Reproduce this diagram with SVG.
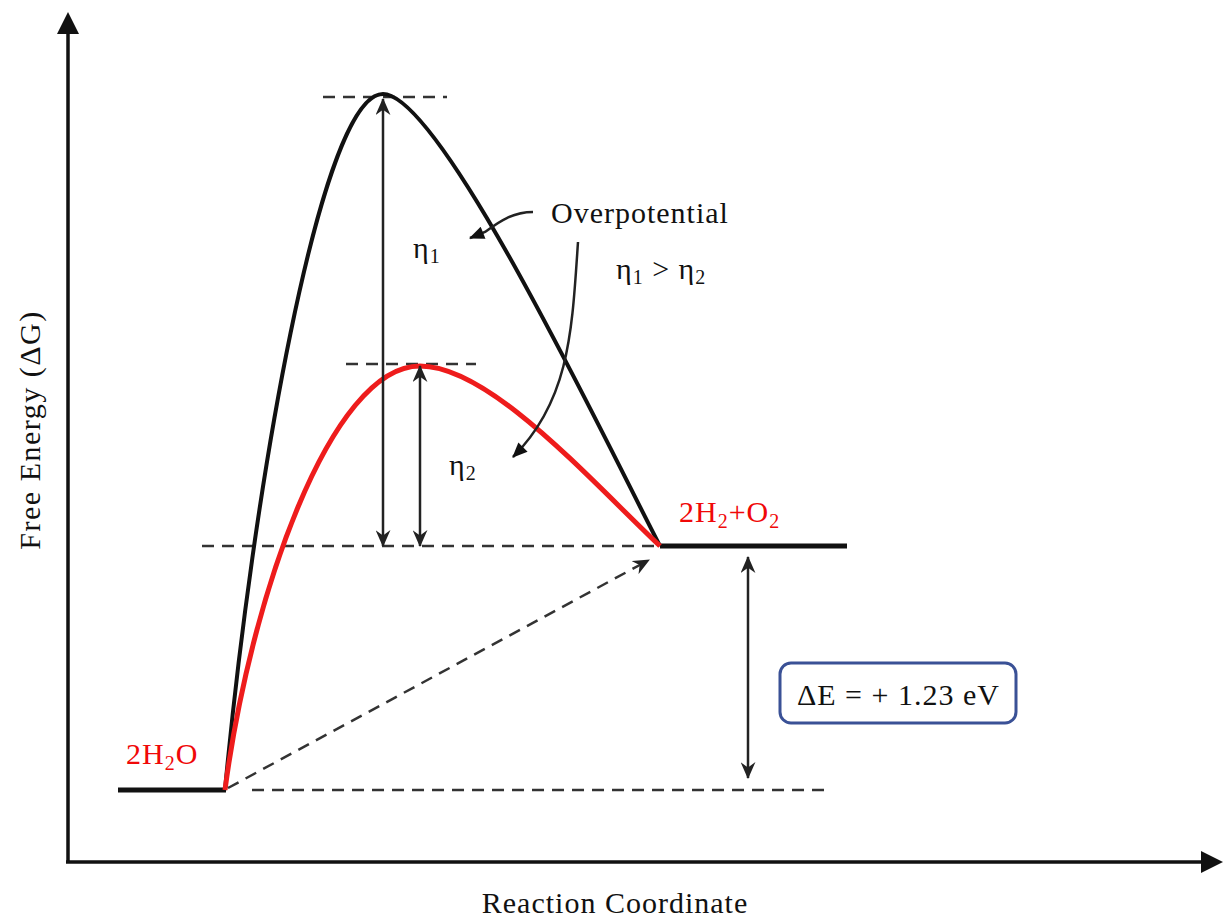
<svg xmlns="http://www.w3.org/2000/svg" width="1225" height="920" viewBox="0 0 1225 920">
<style>
.t{font-family:"Liberation Serif","Times New Roman",serif;font-size:30px;letter-spacing:1px;fill:#111}
.r{fill:#f00808}
.dash{stroke:#333;stroke-width:2.5;stroke-dasharray:12 8;fill:none}
.arr{stroke:#222;stroke-width:2.5;fill:none}
</style>
<defs>
<marker id="ah" viewBox="0 0 16 14" refX="15" refY="7" markerWidth="17" markerHeight="15" markerUnits="userSpaceOnUse" orient="auto-start-reverse">
<path d="M0,0 L16,7 L0,14 L5,7 z" fill="#222"/>
</marker>
<marker id="ahf" viewBox="0 0 14 12" refX="13" refY="6" markerWidth="16" markerHeight="13" markerUnits="userSpaceOnUse" orient="auto">
<path d="M0,0 L14,6 L0,12 z" fill="#111"/>
</marker>
</defs>
<rect width="1225" height="920" fill="#fff"/>
<g id="axes">
<line x1="68" y1="862" x2="68" y2="30" stroke="#111" stroke-width="3.5"/>
<path d="M68,12 L79,34 L57,34 z" fill="#111"/>
<line x1="66" y1="862" x2="1203" y2="862" stroke="#111" stroke-width="3.5"/>
<path d="M1223,862 L1201,851 L1201,873 z" fill="#111"/>
<text class="t" x="615" y="913" text-anchor="middle">Reaction Coordinate</text>
<text class="t" transform="translate(40,430) rotate(-90)" text-anchor="middle" style="letter-spacing:1.5px">Free Energy (ΔG)</text>
</g>
<g id="dashes">
<line class="dash" x1="323" y1="97" x2="447" y2="97"/>
<line class="dash" x1="346" y1="364" x2="476" y2="364"/>
<line class="dash" x1="202" y1="546" x2="662" y2="546"/>
<line class="dash" x1="252" y1="790" x2="824" y2="790"/>
</g>
<g id="levels">
<line x1="118" y1="790" x2="226" y2="790" stroke="#111" stroke-width="5"/>
<line x1="660" y1="546" x2="847" y2="546" stroke="#111" stroke-width="5"/>
</g>
<g id="curves">
<path d="M225,790 C252,500 320,94 383,94 C440,94 600,430 660,546" fill="none" stroke="#111" stroke-width="4"/>
<path d="M225,790 C250,600 330,366 420,366 C490,366 590,480 660,546" fill="none" stroke="#ee1c1c" stroke-width="5"/>
</g>
<g id="connectors">
<line class="arr" x1="383" y1="99" x2="383" y2="546" marker-start="url(#ah)" marker-end="url(#ah)"/>
<line class="arr" x1="420" y1="366" x2="420" y2="546" marker-start="url(#ah)" marker-end="url(#ah)"/>
<line class="arr" x1="748" y1="557" x2="748" y2="778" marker-start="url(#ah)" marker-end="url(#ah)"/>
<line class="dash" x1="228" y1="788" x2="649" y2="560" marker-end="url(#ah)"/>
<path class="arr" d="M533,212 C510,212 495,225 485,232 L470,238" stroke-width="2" marker-end="url(#ahf)"/>
<path class="arr" d="M578,242 C572,330 570,400 513,457" stroke-width="2" marker-end="url(#ahf)"/>
</g>
<g id="labels">
<text class="t" x="551" y="223">Overpotential</text>
<text class="t" x="616" y="279">η<tspan font-size="20" dy="5">1</tspan><tspan dy="-5"> &gt; η</tspan><tspan font-size="20" dy="5">2</tspan></text>
<text class="t" x="413" y="258">η<tspan font-size="20" dy="5">1</tspan></text>
<text class="t" x="449" y="475">η<tspan font-size="20" dy="5">2</tspan></text>
<text class="t r" x="679" y="522">2H<tspan font-size="20" dy="6">2</tspan><tspan dy="-6">+O</tspan><tspan font-size="20" dy="6">2</tspan></text>
<text class="t r" x="126" y="764">2H<tspan font-size="20" dy="6">2</tspan><tspan dy="-6">O</tspan></text>
</g>
<g id="box">
<rect x="780" y="663" width="236" height="60" rx="11" fill="#fff" stroke="#3a5196" stroke-width="3"/>
<text class="t" x="797" y="705">ΔE = + 1.23 eV</text>
</g>
</svg>
